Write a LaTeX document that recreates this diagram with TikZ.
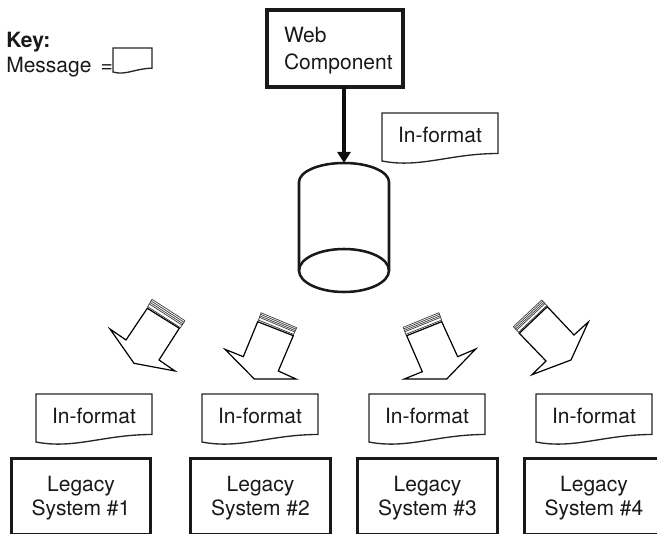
\documentclass[tikz,border=0pt]{standalone}
\usepackage{fontspec}
\setmainfont{TeX Gyre Heros}
\usetikzlibrary{calc,arrows.meta}
\newdimen\pxu \pxu=0.75pt
\newcommand{\msgshape}[5]{% name, left, top, xscale, yscale
  \draw[msgline,shift={(#2,#3)},xscale=#4,yscale=#5] (0,0) -- (116,0) -- (116,40.5)
    .. controls (68,40.5) and (38,55.5) .. (0,48) -- cycle;
  \coordinate (#1) at ($(#2,#3)+(#4*58,#5*21.5)$);}
\newcommand{\msgbox}[4]{% name, left, top, text
  \msgshape{#1c}{#2}{#3}{1}{1}
  \node[label text] (#1) at (#1c) {#4};}
\newcommand{\bigarrow}[5]{% top-start, top-end, bottom-start, bottom-end, outline
  \coordinate (ta) at (#1); \coordinate (tb) at (#2);
  \coordinate (ba) at (#3); \coordinate (bb) at (#4);
  \foreach \f in {0,0.2,0.4,0.58,0.92}{
    \draw[stripe] ($(ta)!\f!(ba)$) -- ($(tb)!\f!(bb)$);}
  \draw[stripe] (ta) -- (ba) (tb) -- (bb);
  \draw[arrowline] #5;}
\newcommand{\lowered}{\rule{0pt}{14.4pt}}
\tikzset{
  msgline/.style={draw=black!85,line width=1pt,fill=white},
  label text/.style={font=\fontsize{15.75}{18}\selectfont,text=black!90,align=center,inner sep=0pt},
  heavy box/.style={draw=black!90,line width=2.3pt,fill=white,outer sep=0pt,
    minimum width=139.5\pxu,minimum height=76\pxu,align=center,
    font=\fontsize{15.75}{18}\selectfont,text=black!90,inner sep=0pt},
  stripe/.style={draw=black!75,line width=0.55pt},
  arrowline/.style={draw=black,line width=0.9pt,line join=miter,fill=white},
  cyl/.style={draw=black!90,line width=1.9pt},
}
\begin{document}
\begin{tikzpicture}[x=0.75pt,y=-0.75pt]
\useasboundingbox (0,0) rectangle (657,534);
\clip (0,0) rectangle (657,534);

% key
\node[label text,font=\fontsize{15.75}{18}\selectfont\bfseries,anchor=west] (keyt) at (6,42) {Key:};
\node[label text,anchor=west] (keym) at (6,67) {Message\hspace{2.5pt} =};
\msgshape{keyc}{113}{48}{0.336}{0.5}

% web component
\node[heavy box,minimum width=136\pxu,minimum height=77\pxu,text width=102\pxu,align=left] (web) at (335,48.5) {\lowered Web\\[2pt]Component};

% store
\coordinate (dbtop) at (344,163);
\draw[cyl,fill=white] (299,270.5) -- (299,182) .. controls (299,172) and (318,163) .. (344,163)
  .. controls (370,163) and (389,172) .. (389,182) -- (389,270.5);
\draw[cyl] (344,270.5) ellipse [x radius=45,y radius=21.5];

% connector
\draw[line width=3.4pt,draw=black!95,-{Triangle[length=8.25pt,width=9.75pt]}] (web.south -| dbtop) -- (dbtop);

% message above store
\msgbox{m0}{382}{113}{In-format}

% arrows
\bigarrow{152,299.3}{185,320.7}{147.3,307.3}{180,328.3}
  {(147.3,308.3) -- (126,340) -- (110,329) -- (134,363.3) -- (175,371) -- (159,360) -- (179.3,328.3) -- cycle}
\bigarrow{261,312.7}{296.7,327.7}{258.3,320.7}{293.3,335}
  {(257.7,321.7) -- (243.3,356.7) -- (225,349.3) -- (254.3,379) -- (296,379) -- (278.3,371) -- (293.3,335.7) -- cycle}
\bigarrow{439,312.7}{403.3,327.3}{441.7,320.7}{406,335}
  {(441.7,321.7) -- (457.7,356.7) -- (475.7,349) -- (446.7,379) -- (404.3,379) -- (422.3,371.7) -- (406.7,335.7) -- cycle}
\bigarrow{541.7,300}{513.3,326.7}{547.3,306}{519,332.7}
  {(547.3,306.7) -- (574,335) -- (588.3,322) -- (571,360) -- (532,374.7) -- (546,361) -- (519.3,333.3) -- cycle}

% bottom messages
\msgbox{m1}{36}{394}{In-format}
\msgbox{m2}{202}{394}{In-format}
\msgbox{m3}{369}{394}{In-format}
\msgbox{m4}{536}{394}{In-format}

% legacy systems
\node[heavy box] (l1) at (81,496.5) {\lowered Legacy\\System \#1};
\node[heavy box] (l2) at (260.5,496.5) {\lowered Legacy\\System \#2};
\node[heavy box] (l3) at (427.5,496.5) {\lowered Legacy\\System \#3};
\node[heavy box] (l4) at (594,496.5) {\lowered Legacy\\System \#4};
\end{tikzpicture}
\end{document}
